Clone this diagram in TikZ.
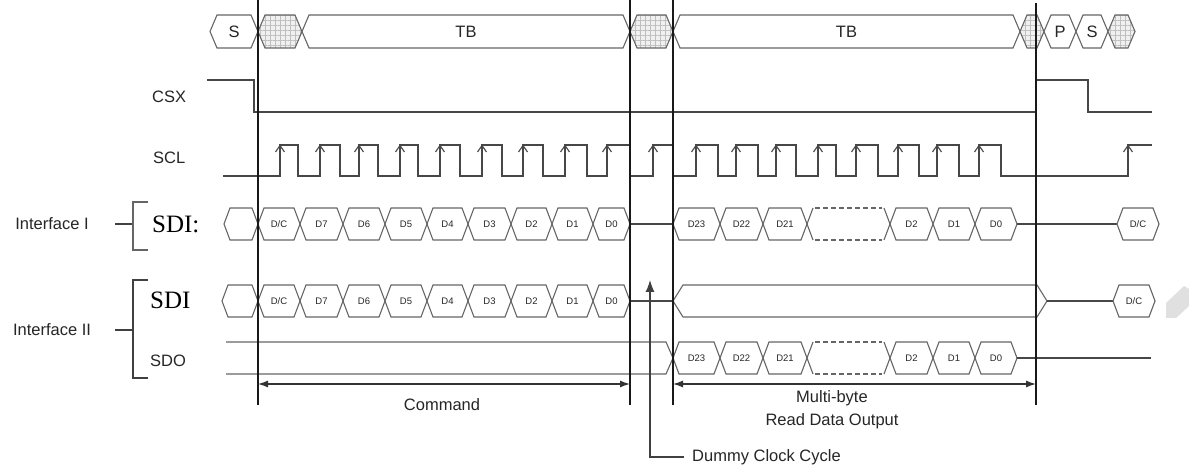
\documentclass[tikz,border=0pt]{standalone}
\usepackage{fontspec}
\setmainfont{Liberation Sans}
\newfontfamily\serifsdi{Liberation Serif}
\usetikzlibrary{arrows.meta,patterns.meta}
\tikzset{
  sig/.style={draw=black!72, line width=1.3pt, line join=miter},
  cellline/.style={draw=black!60, line width=1.1pt},
  marker/.style={draw=black!90, line width=1.6pt},
  celltext/.style={font=\fontsize{9.5}{10}\selectfont, text=black!85, inner sep=0pt},
  lbl/.style={font=\fontsize{16.5}{20}\selectfont, text=black!85, inner sep=0pt},
  sdilbl/.style={font=\serifsdi\fontsize{25}{27}\selectfont, text=black, inner sep=0pt, anchor=west},
  dimline/.style={draw=black!80, line width=1.3pt, {Latex[length=10pt,width=7pt]}-{Latex[length=10pt,width=7pt]}},
  hatchH/.style={pattern={Lines[distance=5pt,angle=0,line width=0.5pt]}, pattern color=black!25},
  hatchV/.style={pattern={Lines[distance=5pt,angle=90,line width=0.5pt]}, pattern color=black!25},
}
% data cell: x0 x1 yc label
\newcommand{\dcell}[4]{%
  \draw[cellline] (#1,#3) -- (#1+6,#3-16) -- (#2-6,#3-16) -- (#2,#3) -- (#2-6,#3+16) -- (#1+6,#3+16) -- cycle;
  \node[celltext] (c#1x#3) at ({(#1+#2)/2},#3) {#4};}
% dashed cell
\newcommand{\dashcell}[3]{%
  \draw[cellline] (#1+6,#3-16) -- (#1,#3) -- (#1+6,#3+16);
  \draw[cellline] (#2-6,#3-16) -- (#2,#3) -- (#2-6,#3+16);
  \draw[cellline, dash pattern=on 5pt off 3pt] (#1+8,#3-16) -- (#2-8,#3-16) (#1+8,#3+16) -- (#2-8,#3+16);}
% top row cell: x0 x1 label
\newcommand{\tcell}[3]{%
  \draw[cellline] (#1,31.5) -- (#1+7,15) -- (#2-7,15) -- (#2,31.5) -- (#2-7,48) -- (#1+7,48) -- cycle;
  \node[lbl] (t#1) at ({(#1+#2)/2},31.5) {#3};}
% hatched top cell
\newcommand{\hcell}[2]{%
  \fill[black!6] (#1,31.5) -- (#1+7,15) -- (#2-7,15) -- (#2,31.5) -- (#2-7,48) -- (#1+7,48) -- cycle;
  \fill[hatchH] (#1,31.5) -- (#1+7,15) -- (#2-7,15) -- (#2,31.5) -- (#2-7,48) -- (#1+7,48) -- cycle;
  \fill[hatchV] (#1,31.5) -- (#1+7,15) -- (#2-7,15) -- (#2,31.5) -- (#2-7,48) -- (#1+7,48) -- cycle;
  \draw[cellline] (#1,31.5) -- (#1+7,15) -- (#2-7,15) -- (#2,31.5) -- (#2-7,48) -- (#1+7,48) -- cycle;}
\newcommand{\cmdrow}[1]{%
  \dcell{258}{300}{#1}{D/C}\dcell{300}{343}{#1}{D7}\dcell{343}{385}{#1}{D6}%
  \dcell{385}{427}{#1}{D5}\dcell{427}{468}{#1}{D4}\dcell{468}{511}{#1}{D3}%
  \dcell{511}{552}{#1}{D2}\dcell{552}{593}{#1}{D1}\dcell{593}{630}{#1}{D0}}
\newcommand{\datarow}[1]{%
  \dcell{673}{720}{#1}{D23}\dcell{720}{763}{#1}{D22}\dcell{763}{807}{#1}{D21}%
  \dashcell{807}{890}{#1}%
  \dcell{890}{933}{#1}{D2}\dcell{933}{975}{#1}{D1}\dcell{975}{1017}{#1}{D0}}
\begin{document}
\begin{tikzpicture}[x=1pt,y=-1pt]
\useasboundingbox (0,0) rectangle (1189,470);
\fill[white] (0,0) rectangle (1189,470);

% ---- top bus row
\tcell{210}{258}{S}
\hcell{258}{302}
\tcell{302}{630}{TB}
\hcell{630}{673}
\tcell{673}{1020}{TB}
\hcell{1020}{1044}
\tcell{1044}{1076}{P}
\tcell{1076}{1108}{S}
\hcell{1108}{1135}

% ---- CSX
\node[lbl, anchor=west] (csx) at (152,97) {CSX};
\draw[sig] (207,80) -- (254,80) -- (254,112) -- (1036,112) -- (1036,80) -- (1088,80) -- (1088,112) -- (1152,112);

% ---- SCL
\node[lbl, anchor=west] (scl) at (153,158) {SCL};
\draw[sig] (223,176)
  -- (280,176) -- (280,145) -- (298,145) -- (298,176)
  -- (320,176) -- (320,145) -- (340,145) -- (340,176)
  -- (359,176) -- (359,145) -- (378,145) -- (378,176)
  -- (400,176) -- (400,145) -- (418,145) -- (418,176)
  -- (440,176) -- (440,145) -- (460,145) -- (460,176)
  -- (482,176) -- (482,145) -- (502,145) -- (502,176)
  -- (523,176) -- (523,145) -- (543,145) -- (543,176)
  -- (565,176) -- (565,145) -- (587,145) -- (587,176)
  -- (607,176) -- (607,145) -- (630,145) -- (630,176)
  -- (653,176) -- (653,145) -- (673,145) -- (673,176)
  -- (696,176) -- (696,145) -- (718,145) -- (718,176)
  -- (736,176) -- (736,145) -- (758,145) -- (758,176)
  -- (776,176) -- (776,145) -- (796,145) -- (796,176)
  -- (818,176) -- (818,145) -- (836,145) -- (836,176)
  -- (856,176) -- (856,145) -- (878,145) -- (878,176)
  -- (898,176) -- (898,145) -- (919,145) -- (919,176)
  -- (937,176) -- (937,145) -- (959,145) -- (959,176)
  -- (979,176) -- (979,145) -- (1001,145) -- (1001,176)
  -- (1128,176) -- (1128,145) -- (1152,145);
\foreach \r in {280,320,359,400,440,482,523,565,607,653,696,736,776,818,856,898,937,979,1128}
  \draw[sig, line width=1.1pt] (\r-4.5,152) -- (\r,145.5) -- (\r+4.5,152);

% ---- Interface I
\node[lbl] (if1) at (52,224) {Interface I};
\draw[black!75, line width=1.4pt] (115,224) -- (133,224);
\draw[black!60, line width=1.4pt] (148,202) -- (133,202) -- (133,250) -- (148,250);
\node[sdilbl] (sdi1) at (152,224) {SDI:};
\draw[cellline] (258,224) -- (252,208) -- (230,208) -- (224,224) -- (230,240) -- (252,240) -- cycle;
\cmdrow{224}
\draw[sig] (630,224) -- (673,224);
\datarow{224}
\draw[sig] (1017,224) -- (1117,224);
\dcell{1117}{1159}{224}{D/C}

% ---- Interface II
\node[lbl] (if2) at (52,330) {Interface II};
\draw[black!75, line width=1.4pt] (115,330) -- (133,330);
\draw[black!75, line width=1.4pt] (148,280) -- (133,280) -- (133,378) -- (148,378);
\node[sdilbl] (sdi2) at (150,300) {SDI};
\draw[cellline] (258,301) -- (252,285) -- (228,285) -- (222,301) -- (228,317) -- (252,317) -- cycle;
\cmdrow{301}
\draw[sig] (630,301) -- (673,301);
\draw[cellline] (673,301) -- (683,285) -- (1037,285) -- (1047,301) -- (1037,317) -- (683,317) -- cycle;
\draw[sig] (1047,301) -- (1113,301);
\dcell{1113}{1155}{301}{D/C}
\fill[black!12] (1166,318) -- (1166,303) -- (1184,286) -- (1189,289) -- (1189,306) -- (1176,318) -- cycle;

% SDO
\node[lbl, anchor=west] (sdo) at (150,361) {SDO};
\draw[cellline] (226,342) -- (666,342) -- (673,358) -- (666,374) -- (226,374);
\datarow{358}
\draw[sig] (1017,358) -- (1151,358);

% ---- markers
\draw[marker] (258,0) -- (258,405);
\draw[marker] (630,0) -- (630,405);
\draw[marker] (673,0) -- (673,405);
\draw[marker] (1036,3) -- (1036,405);

% ---- dimension arrows
\coordinate (cmdL) at (258,384);
\coordinate (cmdR) at (630,384);
\draw[dimline] (cmdL) -- (cmdR);
\node[lbl] (cmd) at (442,405) {Command};
\coordinate (mbL) at (673,384);
\coordinate (mbR) at (1036,384);
\draw[dimline] (mbL) -- (mbR);
\node[lbl, align=center, font=\fontsize{16.5}{23}\selectfont] (mb) at (832,410) {Multi-byte\\Read Data Output};

% ---- dummy clock cycle
\node[lbl, anchor=west] (dummy) at (692,457) {Dummy Clock Cycle};
\coordinate (dtip) at (650,280);
\coordinate (dcorner) at (650,457);
\draw[black!75, line width=1.2pt, -{Latex[length=12pt,width=9pt]}] ([xshift=-8pt]dummy.west) -- (dcorner) -- (dtip);
\end{tikzpicture}
\end{document}
